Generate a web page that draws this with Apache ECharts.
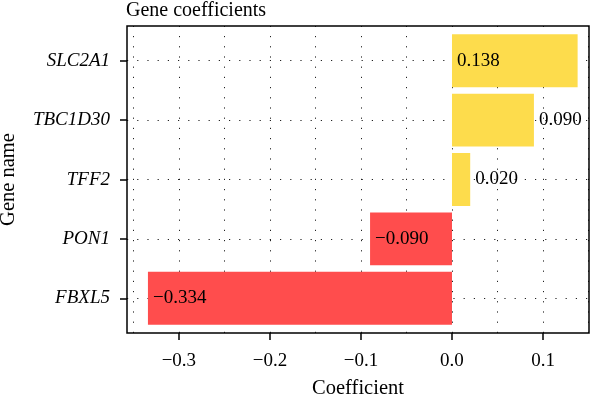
<!DOCTYPE html>
<html><head><meta charset="utf-8">
<script src="https://cdn.jsdelivr.net/npm/echarts@6/dist/echarts.min.js"></script>
<style>html,body{margin:0;padding:0;background:#fff}#c{width:600px;height:396px}</style>
</head><body><div id="c"></div>
<script>
const genes = ['SLC2A1', 'TBC1D30', 'TFF2', 'PON1', 'FBXL5'];
const coefficients = [0.138, 0.090, 0.020, -0.090, -0.334];
const xTickValues = [-0.3, -0.2, -0.1, 0.0, 0.1];
const xGridValues = [-0.35, -0.3, -0.25, -0.2, -0.15, -0.1, -0.05, 0, 0.05, 0.1, 0.15];
const labelPositions = ['insideLeft', 'right', 'right', 'insideLeft', 'insideLeft'];

const FONT = 'Liberation Serif';
const FS = 19;
const FN = 20.5;
const XMIN = -0.357, XMAX = 0.1505;
const dotted = {color: '#222', width: 1, type: [1.2, 9]};

const chart = echarts.init(document.getElementById('c'), null, {renderer: 'canvas'});
chart.setOption({
  animation: false,
  textStyle: {fontFamily: FONT},
  title: {text: 'Gene coefficients', left: 126, top: 1, padding: 0,
    textStyle: {fontFamily: FONT, fontSize: 20, fontWeight: 'normal', color: '#000'}},
  grid: [
    {left: 127, right: 11, top: 26, bottom: 63, show: true, borderColor: '#000', borderWidth: 1.5,
     backgroundColor: 'transparent', z: 3, outerBoundsMode: 'none', containLabel: false},
    {left: 127, right: 11, top: 31, bottom: 68, outerBoundsMode: 'none', containLabel: false}
  ],
  xAxis: [
    {type: 'value', gridIndex: 0, min: XMIN, max: XMAX,
     axisLine: {show: false, onZero: false},
     axisTick: {show: true, customValues: xTickValues, length: 7, lineStyle: {color: '#000', width: 1.5}},
     axisLabel: {customValues: xTickValues, fontFamily: FONT, fontSize: FS, color: '#000', margin: 19,
       formatter: v => (v < 0 ? '\u2212' : '') + Math.abs(v).toFixed(1)},
     splitLine: {show: false},
     name: 'Coefficient', nameLocation: 'middle', nameGap: 45,
     nameTextStyle: {fontFamily: FONT, fontSize: FN, color: '#000'}},
    {type: 'value', gridIndex: 1, min: XMIN, max: XMAX, show: false, splitLine: {show: false}}
  ],
  yAxis: [
    {type: 'value', gridIndex: 0, min: 0, max: 1, show: false, splitLine: {show: false}},
    {type: 'category', gridIndex: 1, data: genes, inverse: true,
     axisLine: {show: false, onZero: false},
     axisTick: {show: true, alignWithLabel: true, length: 7, lineStyle: {color: '#000', width: 1.5}},
     axisLabel: {fontFamily: FONT, fontStyle: 'italic', fontSize: FS, color: '#000', margin: 17},
     splitLine: {show: false},
     name: 'Gene name', nameLocation: 'middle', nameGap: 108, nameRotate: 90,
     nameTextStyle: {fontFamily: FONT, fontSize: FN, color: '#000'}}
  ],
  series: [
    {type: 'bar', xAxisIndex: 1, yAxisIndex: 1, z: 2,
     barCategoryGap: '11%',
     data: coefficients.map((v, i) => ({
       value: v,
       itemStyle: {color: v >= 0 ? '#FDDC4C' : '#FF4D4D'},
       label: {show: true, position: labelPositions[i], distance: 5,
         formatter: () => (v < 0 ? '\u2212' : '') + Math.abs(v).toFixed(3)}
     })),
     label: {fontFamily: FONT, fontSize: FS, color: '#000'},
     markLine: {silent: true, symbol: 'none', z: 1, animation: false,
       label: {show: false}, lineStyle: dotted,
       emphasis: {disabled: true},
       data: genes.map(g => ({yAxis: g}))}
    },
    {type: 'line', xAxisIndex: 0, yAxisIndex: 0, data: [], z: 1,
     markLine: {silent: true, symbol: 'none', z: 1, animation: false,
       label: {show: false}, lineStyle: dotted,
       emphasis: {disabled: true},
       data: xGridValues.map(x => ({xAxis: x}))}
    }
  ]
});
</script></body></html>
